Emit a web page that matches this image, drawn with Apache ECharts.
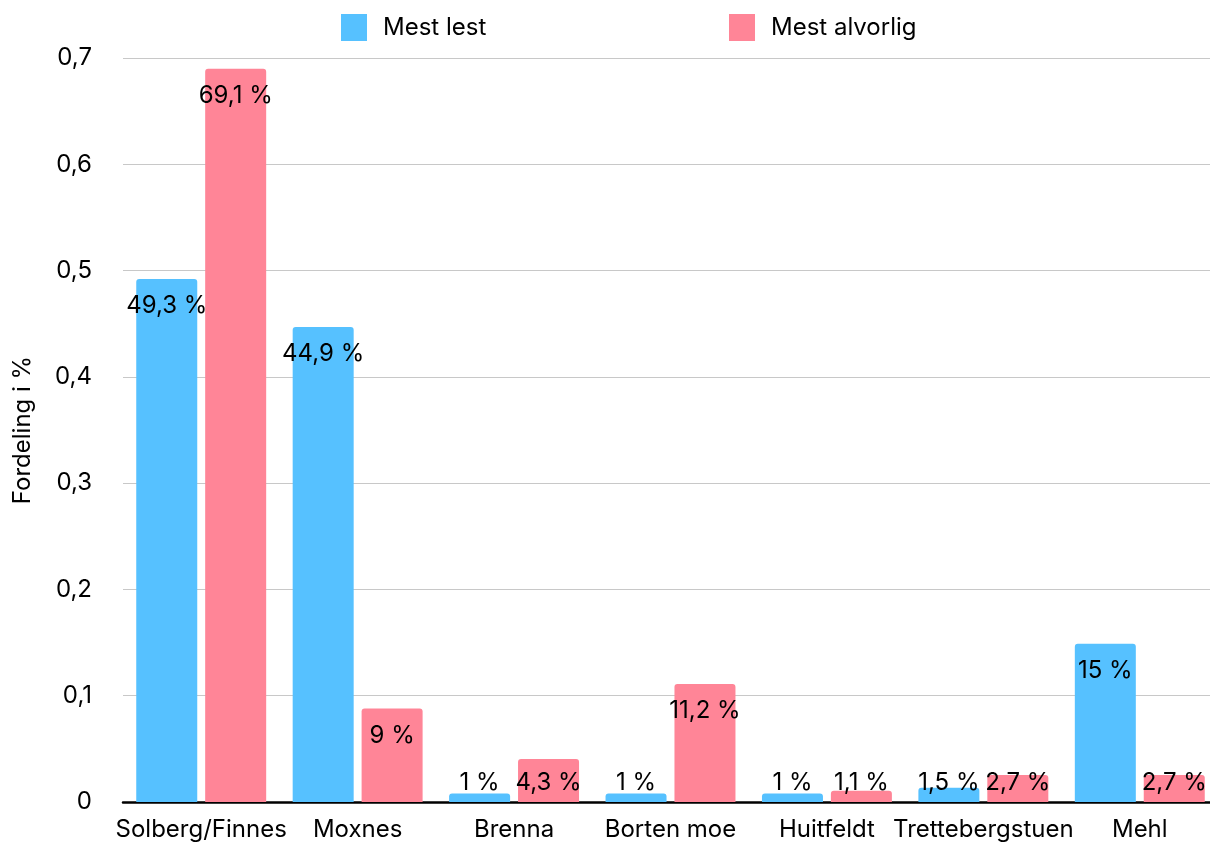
<!DOCTYPE html>
<html>
<head>
<meta charset="utf-8">
<script src="https://cdn.jsdelivr.net/npm/echarts@6/dist/echarts.min.js"></script>
<style>
html,body{margin:0;padding:0;background:#fff;}
#chart{width:1210px;height:845px;}
</style>
</head>
<body>
<div id="chart"></div>
<script>
const categories = ['Solberg/Finnes', 'Moxnes', 'Brenna', 'Borten moe', 'Huitfeldt', 'Trettebergstuen', 'Mehl'];
const mestLest = [0.492, 0.447, 0.008, 0.008, 0.008, 0.0135, 0.149];
const mestAlvorlig = [0.690, 0.088, 0.0405, 0.111, 0.0105, 0.0255, 0.0255];
const mestLestLabels = ['49,3 %', '44,9 %', '1 %', '1 %', '1 %', '1,5 %', '15 %'];
const mestAlvorligLabels = ['69,1 %', '9 %', '4,3 %', '11,2 %', '1,1 %', '2,7 %', '2,7 %'];
const yTicks = { min: 0, max: 0.7, interval: 0.1 };

const FONT = 'Inter';
const chart = echarts.init(document.getElementById('chart'));

function buildData(values, labels) {
  return values.map((v, i) => ({
    value: v,
    label: v < 0.044
      ? { position: 'insideBottom', distance: 7, formatter: labels[i] }
      : { position: 'insideTop', distance: 15, formatter: labels[i] }
  }));
}

const labelStyle = { show: true, color: '#000', fontFamily: FONT, fontSize: 24 };

chart.setOption({
  animation: false,
  textStyle: { fontFamily: FONT },
  legend: [
    {
      data: ['Mest lest'], left: 336, top: 9, icon: 'rect',
      itemWidth: 26, itemHeight: 27,
      textStyle: { fontFamily: FONT, fontSize: 24, color: '#000', padding: [4, 0, 0, 11] }
    },
    {
      data: ['Mest alvorlig'], left: 724, top: 9, icon: 'rect',
      itemWidth: 26, itemHeight: 27,
      textStyle: { fontFamily: FONT, fontSize: 24, color: '#000', padding: [4, 0, 0, 11] }
    }
  ],
  grid: { left: 123, width: 1095, top: 58, bottom: 43, containLabel: false, outerBoundsMode: 'none' },
  xAxis: {
    type: 'category',
    data: categories,
    axisLine: { lineStyle: { color: '#000', width: 2.5 } },
    axisTick: { show: false },
    axisLabel: { color: '#000', fontFamily: FONT, fontSize: 24, margin: 16, interval: 0 }
  },
  yAxis: {
    type: 'value',
    min: yTicks.min, max: yTicks.max, interval: yTicks.interval,
    name: 'Fordeling i %',
    nameLocation: 'middle',
    nameRotate: 90,
    nameGap: 88,
    nameTextStyle: { color: '#000', fontFamily: FONT, fontSize: 24 },
    axisLine: { show: false },
    axisTick: { show: false },
    splitLine: { lineStyle: { color: '#c8c8c8', width: 1.2 } },
    axisLabel: {
      color: '#000', fontFamily: FONT, fontSize: 24, margin: 31,
      formatter: v => v === 0 ? '0' : v.toFixed(1).replace('.', ',')
    }
  },
  series: [
    {
      name: 'Mest lest', type: 'bar', barWidth: 61, barGap: '13%',
      itemStyle: { color: '#56C1FF', borderRadius: [3, 3, 0, 0] },
      label: labelStyle,
      data: buildData(mestLest, mestLestLabels)
    },
    {
      name: 'Mest alvorlig', type: 'bar', barWidth: 61, barGap: '13%',
      itemStyle: { color: '#FF8597', borderRadius: [3, 3, 0, 0] },
      label: labelStyle,
      data: buildData(mestAlvorlig, mestAlvorligLabels)
    }
  ]
});
</script>
</body>
</html>
